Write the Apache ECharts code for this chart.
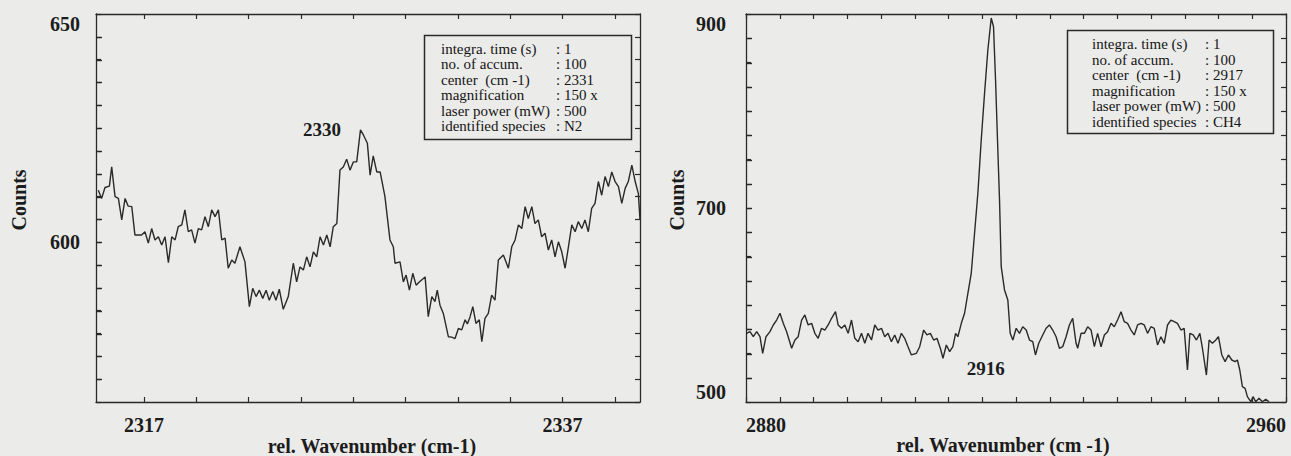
<!DOCTYPE html>
<html><head><meta charset="utf-8">
<script src="https://cdn.jsdelivr.net/npm/echarts@6/dist/echarts.min.js"></script>
<style>html,body{margin:0;padding:0;background:#ebebe9;}#c{width:1291px;height:456px;}</style>
</head><body><div id="c"></div>
<script>
// ---- N2 spectrum (left panel) ----
const n2Wavenumber = [2314.81,2314.97,2315.13,2315.34,2315.45,2315.61,2315.77,2315.93,2316.09,2316.24,
2316.41,2316.56,2316.88,2317.04,2317.20,2317.36,2317.52,2317.68,2317.84,2318.00,
2318.16,2318.32,2318.48,2318.63,2318.80,2318.95,2319.11,2319.27,2319.43,2319.59,
2319.75,2319.91,2320.07,2320.23,2320.39,2320.55,2320.71,2320.87,2321.02,2321.19,
2321.34,2321.58,2321.82,2322.03,2322.19,2322.35,2322.51,2322.67,2322.83,2322.98,
2323.15,2323.30,2323.46,2323.65,2323.89,2324.13,2324.29,2324.45,2324.61,2324.77,
2324.93,2325.09,2325.25,2325.41,2325.57,2325.73,2325.89,2326.04,2326.21,2326.36,
2326.52,2326.68,2326.84,2327.00,2327.16,2327.34,2327.48,2327.67,2327.80,2327.95,
2328.12,2328.28,2328.51,2328.75,2328.91,2328.99,2329.23,2329.39,2329.52,2329.68,
2329.84,2330.00,2330.15,2330.43,2330.58,2330.75,2330.90,2331.01,2331.14,2331.30,
2331.54,2331.70,2331.86,2332.02,2332.18,2332.34,2332.45,2332.58,2332.71,2332.86,
2333.02,2333.14,2333.29,2333.45,2333.61,2333.77,2333.93,2334.17,2334.41,2334.57,
2334.73,2334.89,2335.05,2335.21,2335.36,2335.53,2335.68,2335.84,2336.00,2336.16,
2336.32,2336.48,2336.64,2336.80,2336.96,2337.12,2337.28,2337.44,2337.60,2337.75,
2337.92,2338.07,2338.23,2338.39,2338.55,2338.71,2338.87,2339.03,2339.19,2339.35,
2339.51,2339.67,2339.83,2339.99,2340.14,2340.31,2340.47,2340.62,2340.70];
const n2Counts = [611.4,609.6,612.0,612.3,616.5,610.0,609.6,604.9,609.6,607.9,
607.8,601.6,601.6,602.3,599.8,603.0,600.5,601.2,599.4,601.2,
595.5,601.2,600.5,603.4,603.8,607.1,602.3,602.7,599.8,603.0,
602.7,605.6,603.4,607.1,605.6,607.1,600.5,600.9,594.3,596.1,
595.4,599.0,595.7,585.9,589.9,588.1,589.5,587.7,589.5,587.3,
589.2,587.3,589.7,585.3,588.1,595.4,591.3,594.6,593.9,596.8,
594.6,597.9,596.8,601.2,599.4,601.6,599.0,603.4,604.1,615.8,
616.5,618.2,615.8,617.6,617.6,624.6,623.5,621.7,614.7,618.9,
615.4,615.4,610.0,600.5,599.0,595.4,595.7,591.3,592.8,589.5,
593.2,590.6,591.3,592.4,583.7,588.1,587.0,589.5,586.2,584.4,
579.3,579.2,578.9,581.1,580.8,583.0,582.1,583.7,585.9,582.2,
583.0,578.2,583.3,584.4,588.4,587.3,596.1,597.2,594.3,599.0,
600.5,603.8,603.0,607.8,605.2,607.8,604.1,604.9,601.2,602.0,
598.3,600.5,596.8,600.1,597.9,594.3,599.0,603.8,602.3,604.5,
603.0,604.9,602.3,607.4,608.5,613.3,610.3,614.4,612.2,615.4,
613.3,612.2,608.5,611.8,613.3,616.9,613.3,610.7,604.9];
const n2XTicks = [2317,2319.5,2322,2324.5,2327,2329.5,2332,2334.5,2337,2339.5];
const n2XLabels = [2317,2337];
const n2YLabels = [600,650];
const n2Annotation = {text:'2330', wavenumber:2325.5, counts:624.6};
const n2InfoValues = [': 1', ': 100', ': 2331', ': 150 x', ': 500', ': N2'];

// ---- CH4 spectrum (right panel) ----
const ch4Wavenumber = [2880.10,2880.59,2881.08,2881.58,2882.07,2882.47,2882.96,2883.55,2884.04,2884.54,
2885.03,2885.52,2886.02,2886.76,2887.25,2887.73,2888.24,2888.72,2889.21,2889.72,
2890.20,2890.69,2891.19,2891.68,2892.17,2892.67,2893.26,2893.65,2894.15,2894.64,
2895.13,2895.63,2896.12,2896.61,2897.11,2897.60,2898.08,2898.59,2899.08,2899.56,
2900.07,2900.55,2901.04,2901.54,2902.03,2902.52,2903.02,2903.51,2904.00,2904.50,
2905.24,2905.73,2906.32,2906.81,2907.31,2907.80,2908.29,2908.79,2909.18,2909.68,
2910.17,2910.65,2911.05,2911.39,2911.90,2912.38,2912.87,2913.37,2913.86,2914.35,
2914.85,2915.34,2915.83,2916.33,2916.67,2916.97,2917.26,2917.56,2917.81,2918.30,
2918.79,2919.14,2919.53,2920.03,2920.52,2921.00,2921.51,2922.00,2922.48,2922.88,
2923.37,2923.96,2924.46,2924.95,2925.44,2925.94,2926.43,2926.92,2927.42,2927.91,
2928.40,2928.90,2929.14,2929.64,2930.13,2930.62,2931.12,2931.61,2932.09,2932.60,
2933.09,2933.57,2934.08,2934.56,2935.05,2935.56,2936.04,2936.53,2937.03,2937.52,
2938.01,2938.51,2939.00,2939.49,2939.99,2940.48,2940.97,2941.47,2941.96,2942.45,
2942.95,2943.44,2943.92,2944.43,2944.91,2945.40,2945.76,2946.25,2946.73,2947.24,
2947.62,2948.21,2948.61,2949.10,2949.60,2949.99,2950.49,2950.98,2951.47,2951.97,
2952.46,2952.80,2953.15,2953.54,2953.94,2954.28,2954.78,2955.12,2955.52,2956.01,
2956.50,2957.00,2957.49];
const ch4Counts = [570.8,572.5,567.3,572.5,567.3,550.2,567.3,572.5,579.4,584.5,
591.5,581.1,572.5,555.4,563.9,567.3,584.5,589.7,579.4,581.1,
570.8,565.7,576.0,574.2,579.4,586.3,593.1,579.4,576.0,579.4,
570.8,584.5,565.7,562.2,570.8,560.5,570.8,563.9,579.4,574.2,
576.0,567.3,570.8,562.2,569.1,560.5,570.8,565.7,557.0,548.5,
550.2,557.0,574.2,569.1,570.8,563.9,565.7,555.4,545.1,558.8,
551.9,557.0,570.8,567.3,581.1,591.5,612.1,632.7,673.9,715.2,
770.1,818.2,862.9,895.9,886.9,832.0,770.1,708.3,639.5,615.5,
605.2,570.8,563.9,576.0,570.8,577.6,574.2,563.9,562.2,548.5,
560.5,569.1,576.0,579.4,574.2,567.3,555.4,557.0,567.3,579.4,
586.3,560.5,555.4,570.8,570.8,577.6,574.2,557.0,570.8,557.0,
569.1,572.5,581.1,577.6,584.5,593.1,582.8,581.1,574.2,569.1,
579.4,581.1,579.4,570.8,577.6,576.0,558.8,567.3,560.5,579.4,
584.5,582.8,581.1,574.2,576.0,533.0,570.8,569.1,563.9,570.8,
555.4,527.8,563.9,560.5,563.9,567.3,548.5,541.6,548.5,543.3,
541.6,543.3,533.0,515.8,514.1,505.5,500.3,505.5,500.3,503.8,
500.3,502.8,500.3];
const ch4XLabels = [2880,2960];
const ch4YLabels = [500,700,900];
const ch4Annotation = {text:'2916', wavenumber:2915.5, counts:535};
const ch4InfoValues = [': 1', ': 100', ': 2917', ': 150 x', ': 500', ': CH4'];

const infoKeys = ['integra. time (s)','no. of accum.','center  (cm -1)','magnification','laser power (mW)','identified species'];
const xTitleN2 = 'rel. Wavenumber (cm-1)';
const xTitleCH4 = 'rel. Wavenumber (cm -1)';
const yTitle = 'Counts';

// ---- styling ----
const FONT = "'Liberation Serif','Times New Roman','DejaVu Serif',serif";
const INK = '#1c1c1c';
const AXC = '#2a2a2a';
const zip = (a,b) => a.map((v,i)=>[v,b[i]]);
const only = list => (v => list.indexOf(Math.round(v*100)/100) >= 0 ? String(v) : '');
const labelBase = {show:true, color:INK, fontFamily:FONT, fontWeight:'bold', fontSize:20, showMinLabel:true, showMaxLabel:true};
const tickStyle = {show:true, length:5, lineStyle:{color:AXC, width:1.2}};
const axisLine = {show:true, onZero:false, lineStyle:{color:AXC, width:1.3}};
const yScale = [{min:565, max:650, interval:5}, {min:500, max:900, interval:25}];

function xAxisPair(grid, min, max, tickSpec, labelOpts) {
  return ['bottom','top'].map((pos, i) => Object.assign({
    type:'value', gridIndex:grid, min, max, position:pos,
    splitLine:{show:false}, axisLine,
    axisTick:Object.assign({inside:true}, tickStyle, tickSpec.custom ? {customValues:tickSpec.custom} : {}),
    axisLabel: i === 0 ? Object.assign({}, labelBase, labelOpts) : {show:false}
  }, tickSpec.interval ? {interval:tickSpec.interval} : {}));
}
function yAxisPair(grid, labelOpts) {
  const base = Object.assign({type:'value', gridIndex:grid, splitLine:{show:false}, axisLine}, yScale[grid]);
  return [
    Object.assign({}, base, {position:'left', axisTick:Object.assign({inside:true}, tickStyle), axisLabel:Object.assign({}, labelBase, labelOpts)}),
    Object.assign({}, base, {position:'right', axisTick:Object.assign({inside:true}, tickStyle), axisLabel:{show:false}})
  ];
}

const xAxes = [
  ...xAxisPair(0, 2314.7, 2340.7, {custom:n2XTicks}, {customValues:n2XLabels, margin:13, formatter:String}),
  ...xAxisPair(1, 2880, 2960, {interval:5}, {formatter:only(ch4XLabels), margin:13, alignMinLabel:'left', alignMaxLabel:'right'})
];
const yAxes = [
  ...yAxisPair(0, {formatter:only(n2YLabels), margin:16, verticalAlignMaxLabel:'top'}),
  ...yAxisPair(1, {formatter:only(ch4YLabels), margin:20, verticalAlignMaxLabel:'top', verticalAlignMinLabel:'bottom'})
];

const lineStyle = {color:'#2a2a2a', width:1.4};

function infoBox(x, y, w, h, textX, valueX, textY, values) {
  const ts = {font:"15px 'Liberation Serif','Times New Roman',serif", lineHeight:15.5, fill:'#151515', verticalAlign:'top'};
  return [
    {type:'rect', shape:{x, y, width:w, height:h}, style:{fill:'none', stroke:'#2a2a2a', lineWidth:1.5}, z:10},
    {type:'text', x:textX, y:textY, style:Object.assign({text:infoKeys.join('\n')}, ts), z:10},
    {type:'text', x:valueX, y:textY, style:Object.assign({text:values.join('\n')}, ts), z:10}
  ];
}
const titleStyle = {fill:INK, fontFamily:FONT, fontWeight:'bold', fontSize:20, align:'center', verticalAlign:'middle'};

const chart = echarts.init(document.getElementById('c'), null, {renderer:'svg'});
chart.setOption({
  backgroundColor:'#ebebe9',
  animation:false,
  grid:[
    {left:96, width:544, top:14, height:388},
    {left:746, width:540, top:14, height:388}
  ],
  xAxis: xAxes,
  yAxis: yAxes,
  series:[
    {type:'line', xAxisIndex:0, yAxisIndex:0, data:zip(n2Wavenumber,n2Counts), showSymbol:false, lineStyle, z:3},
    {type:'line', xAxisIndex:2, yAxisIndex:2, data:zip(ch4Wavenumber,ch4Counts), showSymbol:false, lineStyle, z:3}
  ]
});

// annotations placed through the axes' own scales
const annStyle = {fill:INK, fontFamily:FONT, fontWeight:'bold', fontSize:19, align:'center', verticalAlign:'middle'};
const pN2 = chart.convertToPixel({xAxisIndex:0, yAxisIndex:0}, [n2Annotation.wavenumber, n2Annotation.counts]);
const pCH4 = chart.convertToPixel({xAxisIndex:2, yAxisIndex:2}, [ch4Annotation.wavenumber, ch4Annotation.counts]);

// inward ticks on the left frame edges, positioned through each y axis' scale
const leftTicks = [];
[[0,0,96],[1,2,746]].forEach(([g, yi, xLeft]) => {
  const s = yScale[g];
  for (let v = s.min + s.interval; v < s.max; v += s.interval) {
    const y = Math.round(chart.convertToPixel({yAxisIndex:yi}, v)) + 0.5;
    leftTicks.push({type:'line', silent:true, z:20,
      shape:{x1:xLeft, y1:y, x2:xLeft + 6, y2:y}, style:{stroke:AXC, lineWidth:1.4}});
  }
});

chart.setOption({
  graphic:[
    ...leftTicks,
    ...infoBox(424.5, 35.5, 207, 104, 441, 556, 41, n2InfoValues),
    ...infoBox(1067.5, 30.5, 206, 103, 1092, 1205, 36.5, ch4InfoValues),
    {type:'text', x:pN2[0], y:pN2[1], style:Object.assign({text:n2Annotation.text}, annStyle)},
    {type:'text', x:pCH4[0], y:pCH4[1], style:Object.assign({text:ch4Annotation.text}, annStyle)},
    {type:'text', x:19, y:200, rotation:Math.PI/2, style:Object.assign({text:yTitle}, titleStyle)},
    {type:'text', x:677, y:200, rotation:Math.PI/2, style:Object.assign({text:yTitle}, titleStyle)},
    {type:'text', x:372, y:446, style:Object.assign({text:xTitleN2}, titleStyle)},
    {type:'text', x:1003, y:445, style:Object.assign({text:xTitleCH4}, titleStyle)}
  ]
});
</script></body></html>
